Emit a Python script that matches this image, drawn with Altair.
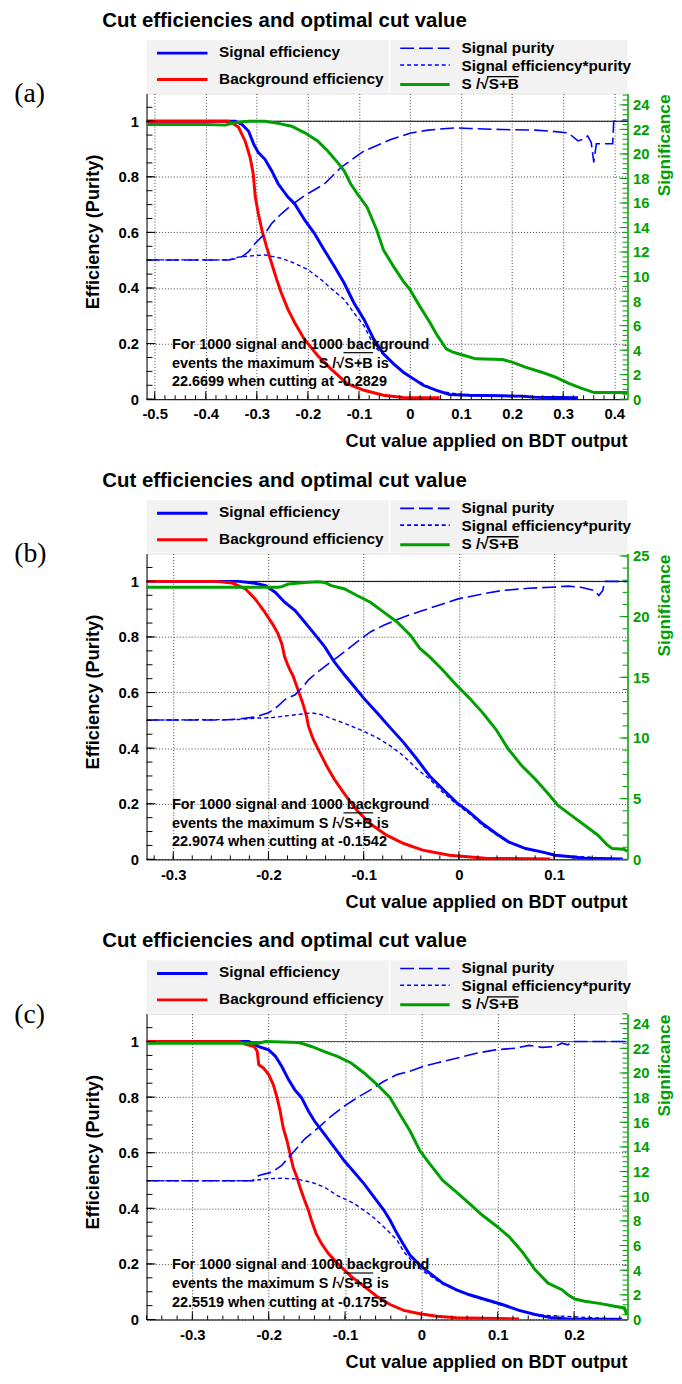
import altair as alt
import pandas as pd

FONT = "Liberation Sans"
SERIF = "Liberation Serif"
BLUE = "#0000ff"
RED = "#ff0000"
GREEN = "#00a000"
W, H = 486, 309

TITLE = "Cut efficiencies and optimal cut value"
XTITLE = "Cut value applied on BDT output"
YTITLE = "Efficiency (Purity)"
STITLE = "Significance"
LEG_LEFT = ["Signal efficiency", "Background efficiency"]
LEG_RIGHT = ["Signal purity", "Signal efficiency*purity", "S /\u221aS+B"]

# ---------------- panel (a) ----------------
A_XDOM = [-0.516, 0.426]
A_XMAJ = [-0.5, -0.4, -0.3, -0.2, -0.1, 0.0, 0.1, 0.2, 0.3, 0.4]
A_SIGEFF_X = [-0.516, -0.342, -0.329, -0.316, -0.306, -0.297, -0.284, -0.271, -0.258, -0.239, -0.226, -0.206, -0.187, -0.168, -0.148, -0.129, -0.110, -0.090, -0.071, -0.052, -0.032, -0.013, 0.006, 0.026, 0.052, 0.077, 0.116, 0.181, 0.219, 0.245, 0.329]
A_SIGEFF_Y = [1.0, 1.0, 0.988, 0.964, 0.917, 0.887, 0.863, 0.822, 0.774, 0.727, 0.703, 0.644, 0.596, 0.537, 0.477, 0.418, 0.347, 0.287, 0.216, 0.163, 0.127, 0.097, 0.074, 0.050, 0.032, 0.017, 0.014, 0.012, 0.011, 0.007, 0.005]
A_BKG_X = [-0.516, -0.355, -0.336, -0.323, -0.313, -0.307, -0.303, -0.297, -0.290, -0.281, -0.271, -0.261, -0.252, -0.239, -0.226, -0.207, -0.181, -0.155, -0.123, -0.090, -0.052, -0.013, 0.058]
A_BKG_Y = [1.0, 1.0, 0.979, 0.929, 0.869, 0.810, 0.727, 0.667, 0.608, 0.549, 0.489, 0.430, 0.382, 0.323, 0.276, 0.216, 0.157, 0.109, 0.056, 0.032, 0.014, 0.006, 0.005]
A_PUR_X = [-0.516, -0.355, -0.342, -0.329, -0.316, -0.303, -0.284, -0.271, -0.252, -0.229, -0.206, -0.168, -0.135, -0.090, -0.039, 0.000, 0.032, 0.065, 0.090, 0.116, 0.181, 0.245, 0.277, 0.310, 0.329, 0.339, 0.348, 0.355, 0.360, 0.365, 0.397, 0.399, 0.426]
A_PUR_Y = [0.501, 0.501, 0.505, 0.513, 0.531, 0.561, 0.596, 0.632, 0.667, 0.703, 0.733, 0.774, 0.834, 0.893, 0.933, 0.957, 0.967, 0.973, 0.976, 0.974, 0.970, 0.968, 0.964, 0.958, 0.929, 0.935, 0.947, 0.923, 0.852, 0.919, 0.919, 1.0, 1.0]
A_EP_X = [-0.516, -0.355, -0.336, -0.316, -0.284, -0.252, -0.226, -0.200, -0.174, -0.148, -0.129, -0.110, -0.090, -0.077, -0.065, -0.039, -0.013, 0.013, 0.052, 0.116, 0.329]
A_EP_Y = [0.501, 0.501, 0.511, 0.515, 0.519, 0.507, 0.489, 0.466, 0.430, 0.388, 0.359, 0.311, 0.264, 0.216, 0.181, 0.139, 0.095, 0.068, 0.030, 0.013, 0.005]
A_SIG_X = [-0.516, -0.400, -0.361, -0.355, -0.336, -0.316, -0.284, -0.258, -0.232, -0.206, -0.181, -0.161, -0.142, -0.129, -0.116, -0.103, -0.084, -0.065, -0.052, -0.032, -0.013, 0.000, 0.019, 0.039, 0.052, 0.071, 0.084, 0.103, 0.129, 0.181, 0.200, 0.226, 0.258, 0.284, 0.310, 0.335, 0.361, 0.426]
A_SIG_Y = [22.40, 22.40, 22.35, 22.44, 22.58, 22.67, 22.67, 22.49, 22.26, 21.72, 21.06, 20.24, 19.31, 18.63, 17.55, 16.75, 15.66, 13.78, 12.17, 10.81, 9.61, 8.93, 7.59, 6.26, 5.30, 4.10, 3.83, 3.60, 3.29, 3.24, 3.02, 2.61, 2.20, 1.81, 1.31, 0.91, 0.54, 0.54]
A_SIG_MAX = 22.6699
A_CUT = "-0.2829"

# ---------------- panel (b) ----------------
B_XDOM = [-0.328, 0.177]
B_XMAJ = [-0.3, -0.2, -0.1, 0.0, 0.1]
B_SIGEFF_X = [-0.328, -0.231, -0.214, -0.203, -0.193, -0.183, -0.172, -0.162, -0.152, -0.141, -0.131, -0.120, -0.110, -0.100, -0.086, -0.072, -0.058, -0.044, -0.031, -0.017, -0.003, 0.011, 0.025, 0.039, 0.052, 0.070, 0.087, 0.101, 0.115, 0.132, 0.172]
B_SIGEFF_Y = [1.0, 1.0, 0.993, 0.985, 0.961, 0.925, 0.895, 0.854, 0.812, 0.765, 0.711, 0.663, 0.622, 0.580, 0.527, 0.473, 0.420, 0.360, 0.301, 0.253, 0.206, 0.170, 0.128, 0.093, 0.063, 0.039, 0.027, 0.015, 0.010, 0.004, 0.001]
B_BKG_X = [-0.328, -0.255, -0.238, -0.224, -0.214, -0.205, -0.196, -0.190, -0.186, -0.183, -0.179, -0.174, -0.169, -0.164, -0.160, -0.158, -0.153, -0.146, -0.139, -0.131, -0.120, -0.107, -0.093, -0.076, -0.058, -0.038, -0.010, 0.028, 0.096]
B_BKG_Y = [1.0, 1.0, 0.994, 0.973, 0.937, 0.895, 0.848, 0.812, 0.776, 0.729, 0.693, 0.658, 0.610, 0.562, 0.515, 0.479, 0.432, 0.384, 0.337, 0.289, 0.235, 0.176, 0.128, 0.087, 0.057, 0.033, 0.015, 0.004, 0.001]
B_PUR_X = [-0.328, -0.248, -0.231, -0.214, -0.200, -0.190, -0.183, -0.172, -0.162, -0.158, -0.148, -0.134, -0.120, -0.107, -0.093, -0.079, -0.058, -0.038, -0.017, -0.001, 0.025, 0.045, 0.073, 0.097, 0.115, 0.128, 0.142, 0.147, 0.151, 0.153, 0.177]
B_PUR_Y = [0.501, 0.501, 0.505, 0.512, 0.527, 0.551, 0.574, 0.592, 0.628, 0.646, 0.675, 0.711, 0.747, 0.782, 0.818, 0.842, 0.872, 0.895, 0.919, 0.937, 0.955, 0.967, 0.975, 0.979, 0.983, 0.979, 0.967, 0.949, 0.967, 1.0, 1.0]
B_EP_X = [-0.328, -0.231, -0.214, -0.196, -0.179, -0.165, -0.155, -0.145, -0.131, -0.117, -0.100, -0.086, -0.072, -0.058, -0.044, -0.031, -0.017, -0.003, 0.011, 0.025, 0.039, 0.052, 0.070, 0.101, 0.172]
B_EP_Y = [0.501, 0.503, 0.508, 0.510, 0.517, 0.523, 0.527, 0.521, 0.503, 0.485, 0.461, 0.438, 0.408, 0.372, 0.325, 0.289, 0.241, 0.200, 0.164, 0.122, 0.089, 0.061, 0.038, 0.015, 0.001]
B_SIG_X = [-0.328, -0.190, -0.186, -0.179, -0.162, -0.148, -0.141, -0.134, -0.120, -0.107, -0.093, -0.079, -0.065, -0.051, -0.041, -0.031, -0.017, -0.003, 0.011, 0.025, 0.039, 0.052, 0.066, 0.080, 0.094, 0.104, 0.118, 0.132, 0.146, 0.156, 0.161, 0.173, 0.177]
B_SIG_Y = [22.42, 22.42, 22.47, 22.69, 22.82, 22.88, 22.82, 22.56, 22.28, 21.74, 21.19, 20.37, 19.56, 18.47, 17.38, 16.70, 15.61, 14.38, 13.29, 12.07, 10.70, 9.07, 7.71, 6.62, 5.39, 4.44, 3.62, 2.81, 1.99, 1.17, 0.90, 0.84, 0.68]
B_SIG_MAX = 22.9074
B_CUT = "-0.1542"

# ---------------- panel (c) ----------------
C_XDOM = [-0.360, 0.270]
C_XMAJ = [-0.3, -0.2, -0.1, 0.0, 0.1, 0.2]
C_SIGEFF_X = [-0.360, -0.226, -0.213, -0.200, -0.191, -0.183, -0.174, -0.166, -0.157, -0.148, -0.140, -0.127, -0.114, -0.101, -0.088, -0.075, -0.062, -0.049, -0.041, -0.032, -0.023, -0.015, -0.002, 0.011, 0.028, 0.046, 0.063, 0.085, 0.106, 0.128, 0.149, 0.171, 0.192, 0.263]
C_SIGEFF_Y = [1.0, 1.0, 0.982, 0.970, 0.946, 0.911, 0.863, 0.827, 0.798, 0.750, 0.714, 0.667, 0.619, 0.571, 0.530, 0.488, 0.440, 0.393, 0.357, 0.310, 0.268, 0.232, 0.196, 0.167, 0.131, 0.107, 0.089, 0.071, 0.054, 0.033, 0.018, 0.006, 0.002, 0.001]
C_BKG_X = [-0.360, -0.239, -0.230, -0.219, -0.215, -0.213, -0.207, -0.200, -0.194, -0.189, -0.185, -0.181, -0.176, -0.172, -0.168, -0.163, -0.159, -0.153, -0.148, -0.144, -0.138, -0.131, -0.122, -0.110, -0.092, -0.075, -0.058, -0.041, -0.023, -0.002, 0.020, 0.046, 0.128]
C_BKG_Y = [1.0, 1.0, 0.990, 0.982, 0.964, 0.917, 0.905, 0.881, 0.845, 0.798, 0.750, 0.690, 0.643, 0.595, 0.548, 0.512, 0.476, 0.429, 0.393, 0.357, 0.310, 0.274, 0.238, 0.202, 0.155, 0.119, 0.083, 0.054, 0.033, 0.021, 0.012, 0.006, 0.002]
C_PUR_X = [-0.360, -0.222, -0.213, -0.196, -0.183, -0.174, -0.166, -0.153, -0.135, -0.118, -0.101, -0.084, -0.066, -0.049, -0.032, -0.015, 0.003, 0.020, 0.046, 0.072, 0.097, 0.123, 0.141, 0.158, 0.175, 0.184, 0.192, 0.197, 0.270]
C_PUR_Y = [0.499, 0.499, 0.518, 0.530, 0.554, 0.583, 0.607, 0.649, 0.690, 0.732, 0.768, 0.798, 0.827, 0.857, 0.881, 0.893, 0.911, 0.923, 0.940, 0.958, 0.970, 0.976, 0.986, 0.979, 0.982, 0.994, 0.988, 1.0, 1.0]
C_EP_X = [-0.360, -0.222, -0.204, -0.183, -0.166, -0.144, -0.127, -0.110, -0.088, -0.066, -0.049, -0.032, -0.023, -0.010, 0.003, 0.028, 0.063, 0.106, 0.149, 0.263]
C_EP_Y = [0.499, 0.499, 0.506, 0.508, 0.506, 0.494, 0.476, 0.446, 0.417, 0.375, 0.333, 0.286, 0.244, 0.202, 0.173, 0.127, 0.087, 0.051, 0.017, 0.001]
C_SIG_X = [-0.360, -0.213, -0.204, -0.161, -0.153, -0.144, -0.127, -0.110, -0.092, -0.075, -0.058, -0.041, -0.028, -0.015, -0.002, 0.011, 0.028, 0.046, 0.063, 0.080, 0.097, 0.115, 0.132, 0.149, 0.166, 0.184, 0.192, 0.201, 0.214, 0.235, 0.253, 0.266, 0.268, 0.270]
C_SIG_Y = [22.42, 22.42, 22.55, 22.47, 22.33, 22.15, 21.74, 21.34, 20.81, 20.00, 19.06, 18.00, 16.64, 15.31, 13.69, 12.62, 11.28, 10.34, 9.40, 8.46, 7.65, 6.71, 5.50, 4.03, 2.95, 2.42, 2.01, 1.66, 1.48, 1.29, 1.07, 0.94, 0.54, 0.40]
C_SIG_MAX = 22.5519
C_CUT = "-0.1755"

ONE = pd.DataFrame({"k": [0]})


def txt(s, x, y, size, color="black", align="left", angle=0, font=FONT, weight="bold"):
    kw = dict(text=s, font=font, fontSize=size, fontWeight=weight, color=color,
              align=align, baseline="middle")
    if angle:
        kw["angle"] = angle
    return alt.Chart(ONE).mark_text(**kw).encode(x=alt.value(x), y=alt.value(y))


def seg(x1, y1, x2, y2, color, width, dash=None):
    kw = dict(color=color, strokeWidth=width)
    if dash:
        kw["strokeDash"] = dash
    return alt.Chart(ONE).mark_rule(**kw).encode(
        x=alt.value(x1), y=alt.value(y1), x2=alt.value(x2), y2=alt.value(y2))


def ticks_between(lo, hi, step):
    n0 = int(round(lo / step)) - 1
    n1 = int(round(hi / step)) + 1
    return [round(i * step, 4) for i in range(n0, n1 + 1) if lo - 1e-9 <= i * step <= hi + 1e-9]


def panel(letter, xdom, xmaj, sigeff, bkg, pur, ep, sig, sig_max, sig_step, sig_minor, cut, hline_color):
    xs = alt.Scale(domain=xdom, nice=False, zero=False)
    ys = alt.Scale(domain=[0, 1.1], nice=False, zero=False)
    smax = round(sig_max * 1.1, 3)
    ss = alt.Scale(domain=[0, smax], nice=False, zero=False)

    lab = dict(labelFont=FONT, labelFontSize=15, labelFontWeight="bold", ticks=False, tickSize=0,
               labelFlush=False, labelOverlap=False, title=None)
    xaxis = alt.Axis(values=xmaj, labelExpr="replace(format(datum.value, '.1~f'), '\u2212', '-')",
                     grid=True, gridDash=[1, 2], gridColor="#444", gridWidth=1,
                     domainColor="black", domainWidth=1, labelColor="black", labelPadding=8, **lab)
    yaxis = alt.Axis(values=[0, 0.2, 0.4, 0.6, 0.8, 1.0], labelExpr="format(datum.value, '.1~f')",
                     grid=True, gridDash=[1, 2], gridColor="#444", gridWidth=1,
                     domainColor="black", domainWidth=1, labelColor="black", labelPadding=8, **lab)
    smaj = ticks_between(0, smax, sig_step)
    saxis = alt.Axis(orient="right", values=smaj, format="d", grid=False,
                     domainColor=GREEN, domainWidth=1.5, labelColor=GREEN, labelPadding=5, **lab)

    X = lambda: alt.X("x:Q", scale=xs, axis=xaxis)
    Y = lambda f="y": alt.Y(f + ":Q", scale=ys, axis=yaxis)
    S = lambda: alt.Y("s:Q", scale=ss, axis=saxis)

    def line(xv, yv, color, width, dash=None):
        kw = dict(color=color, strokeWidth=width, clip=True)
        if dash:
            kw["strokeDash"] = dash
        return alt.Chart(pd.DataFrame({"x": xv, "y": yv})).mark_line(**kw).encode(x=X(), y=Y())

    hline = alt.Chart(pd.DataFrame({"y": [1.0]})).mark_rule(color=hline_color, strokeWidth=1).encode(
        y=Y(), x=alt.value(0), x2=alt.value(W))

    l_sigeff = line(sigeff[0], sigeff[1], BLUE, 3)
    l_bkg = line(bkg[0], bkg[1], RED, 3)
    l_pur = line(pur[0], pur[1], BLUE, 1.6, dash=[14, 5])
    l_ep = line(ep[0], ep[1], BLUE, 1.4, dash=[4, 3])

    def xt(vals, ln):
        return alt.Chart(pd.DataFrame({"x": vals})).mark_rule(color="black", strokeWidth=1).encode(
            x=X(), y=alt.value(H), y2=alt.value(H - ln))

    def yt(vals, ln):
        return alt.Chart(pd.DataFrame({"y": vals})).mark_rule(color="black", strokeWidth=1).encode(
            y=Y(), x=alt.value(0), x2=alt.value(ln))

    def st(vals, ln):
        return alt.Chart(pd.DataFrame({"s": vals})).mark_rule(color=GREEN, strokeWidth=1).encode(
            y=S(), x=alt.value(W), x2=alt.value(W - ln))

    xminor = ticks_between(xdom[0], xdom[1], 0.02)
    ymaj = [0, 0.2, 0.4, 0.6, 0.8, 1.0]
    yminor = ticks_between(0, 1.08, 0.05)
    sminor = ticks_between(0, smax, sig_minor)

    left = alt.layer(hline, l_sigeff, l_bkg, l_pur, l_ep,
                     xt(xminor, 4), xt(xmaj, 8), yt(yminor, 6), yt(ymaj, 9))

    g_sig = alt.Chart(pd.DataFrame({"x": sig[0], "s": sig[1]})).mark_line(
        color=GREEN, strokeWidth=3, clip=True).encode(x=X(), y=S())

    decos = [
        # legend box
        alt.Chart(ONE).mark_rect(color="#f2f2f2").encode(
            x=alt.value(0), x2=alt.value(W), y=alt.value(-54), y2=alt.value(-1)),
        seg(245.6, -54, 245.6, -1, "white", 1.5),
        seg(10.6, -40.7, 61.6, -40.7, BLUE, 3),
        seg(10.6, -14, 61.6, -14, RED, 3),
        seg(256.3, -45.7, 306.3, -45.7, BLUE, 1.6, [14, 5]),
        seg(256.3, -28.7, 306.3, -28.7, BLUE, 1.6, [4, 3]),
        seg(256.3, -9, 306.3, -9, GREEN, 3),
        txt(LEG_LEFT[0], 73.3, -42, 15.5),
        txt(LEG_LEFT[1], 73.3, -14.6, 15.5),
        txt(LEG_RIGHT[0], 318.3, -46, 15.5),
        txt(LEG_RIGHT[1], 318.3, -27.7, 15.5),
        txt(LEG_RIGHT[2], 318.3, -9.7, 15.5),
        seg(344, -17, 376, -17, "black", 1.3),
        # title and panel letter
        txt(TITLE, -44.7, -73.4, 20.6),
        txt("(" + letter + ")", -133.7, 1, 28, font=SERIF, weight="normal"),
        # axis titles
        txt(YTITLE, -53.7, 140, 18.4, angle=270, align="center"),
        txt(XTITLE, W, 351.7, 18.4, align="right"),
        txt(STITLE, W + 37.7, 1, 17.5, color=GREEN, angle=270, align="right"),
        # annotation
        txt("For 1000 signal and 1000 background", 25.6, 254.3, 14.6),
        txt("events the maximum S /\u221aS+B is", 25.6, 273.3, 14.6),
        txt(f"{sig_max:.4f} when cutting at {cut}", 25.6, 292, 14.6),
        seg(199, 262, 229, 262, "black", 1.2),
    ]
    right = alt.layer(g_sig, st(sminor, 5), st(smaj, 8), *decos)
    return alt.layer(left, right).resolve_scale(y="independent").properties(width=W, height=H)


pa = panel("a", A_XDOM, A_XMAJ, (A_SIGEFF_X, A_SIGEFF_Y), (A_BKG_X, A_BKG_Y), (A_PUR_X, A_PUR_Y),
           (A_EP_X, A_EP_Y), (A_SIG_X, A_SIG_Y), A_SIG_MAX, 2, 0.4, A_CUT, "black")
pb = panel("b", B_XDOM, B_XMAJ, (B_SIGEFF_X, B_SIGEFF_Y), (B_BKG_X, B_BKG_Y), (B_PUR_X, B_PUR_Y),
           (B_EP_X, B_EP_Y), (B_SIG_X, B_SIG_Y), B_SIG_MAX, 5, 1, B_CUT, "black")
pc = panel("c", C_XDOM, C_XMAJ, (C_SIGEFF_X, C_SIGEFF_Y), (C_BKG_X, C_BKG_Y), (C_PUR_X, C_PUR_Y),
           (C_EP_X, C_EP_Y), (C_SIG_X, C_SIG_Y), C_SIG_MAX, 2, 0.4, C_CUT, "#555")

chart = alt.vconcat(pa, pb, pc, spacing=156, bounds="flush").properties(
    padding={"left": 5, "top": -4.9, "right": 0, "bottom": 0}
).configure_view(stroke=None).configure(font=FONT)

chart.save("out.html", embed_options={"renderer": "svg", "actions": False})
